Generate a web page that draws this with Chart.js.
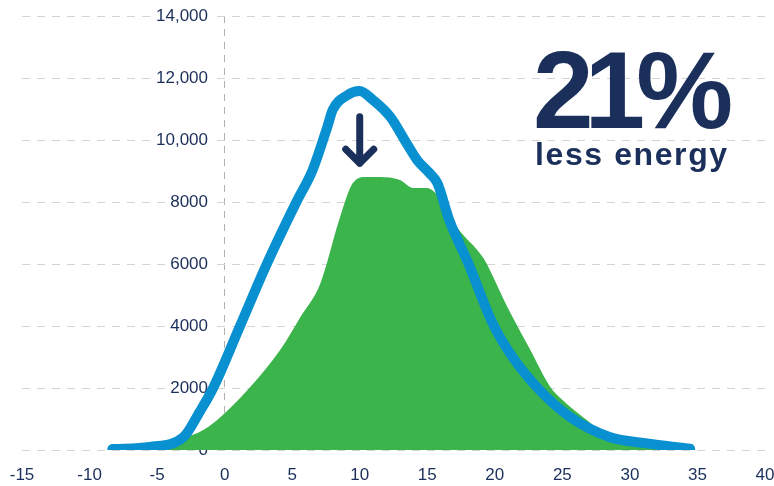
<!DOCTYPE html>
<html>
<head>
<meta charset="utf-8">
<script src="https://cdn.jsdelivr.net/npm/chart.js@4"></script>
<style>
  body { margin: 0; background: #fff; }
  #wrap { position: relative; width: 774px; height: 486px; }
  .big {
    position: absolute; left: 533px; top: 36px;
    font: bold 109px "Liberation Sans", Arial, sans-serif;
    line-height: 1; letter-spacing: -9px; color: #1b2f5b;
  }
  .small {
    position: absolute; left: 535px; top: 138px;
    font: bold 32px "Liberation Sans", Arial, sans-serif;
    line-height: 1; letter-spacing: 1.6px; color: #1b2f5b;
  }
</style>
</head>
<body>
<div id="wrap">
  <canvas id="chart" width="774" height="486"></canvas>
  <div class="big">21%</div>
  <div class="small">less energy</div>
</div>
<script>
// x axis: -15 .. 40, y axis: 0 .. 14000
const xTickLabels = ['-15', '-10', '-5', '0', '5', '10', '15', '20', '25', '30', '35', '40'];
const yTickLabels = ['0', '2000', '4000', '6000', '8000', '10,000', '12,000', '14,000'];

// green area (after)
const greenX = [-4.83, -2.84, -1.85, -0.55, 1.83, 4.12, 5.61, 7.1, 8.5, 9.49, 10.48, 11.48, 12.97, 13.97, 14.96, 16.15, 17.2, 19.14, 19.64, 20.93, 22.62, 24.11, 25.01, 26.8, 28.49, 30.78, 32.27];
const greenY = [0, 420, 580, 970, 2000, 3230, 4290, 5390, 7450, 8610, 8810, 8810, 8710, 8450, 8450, 8000, 7190, 6200, 5800, 4610, 3230, 2030, 1610, 970, 420, 130, 0];

// blue line (before)
const blueX = [-8.31, -5.53, -3.04, -1.85, -0.85, 1.14, 3.12, 5.31, 6.51, 7.6, 8.0, 9.09, 9.99, 10.98, 12.27, 13.46, 14.26, 15.15, 15.75, 16.64, 18.03, 19.82, 21.31, 23.3, 25.59, 28.48, 30.97, 34.46];
const blueY = [30, 100, 420, 1230, 2000, 4000, 6000, 8000, 9030, 10420, 10970, 11450, 11580, 11290, 10740, 9900, 9350, 8940, 8610, 7400, 6030, 4100, 3000, 1940, 1060, 420, 230, 40];

// down arrow under the peak
const arrowX = 10.0;
const arrowFrom = 10750;
const arrowTo = 9250;

// where the y tick labels sit (right edge), in x units
const yLabelAt = -1.23;

const navy = '#1b2f5b';
const tickFont = { family: '"Liberation Sans", Arial, sans-serif', size: 17 };

const toPoints = (xs, ys) => xs.map((x, i) => ({ x: x, y: ys[i] }));

const arrowPlugin = {
    id: 'arrow',
    afterDatasetsDraw(chart) {
        const { ctx, scales: { x, y } } = chart;
        const px = x.getPixelForValue(arrowX);
        const top = y.getPixelForValue(arrowFrom);
        const tip = y.getPixelForValue(arrowTo);
        ctx.save();
        ctx.strokeStyle = navy;
        ctx.lineWidth = 7;
        ctx.lineCap = 'round';
        ctx.lineJoin = 'round';
        ctx.beginPath();
        ctx.moveTo(px, top);
        ctx.lineTo(px, tip);
        ctx.moveTo(px - 14, tip - 14);
        ctx.lineTo(px, tip);
        ctx.lineTo(px + 14, tip - 14);
        ctx.stroke();
        ctx.restore();
    }
};

new Chart(document.getElementById('chart'), {
    type: 'line',
    data: {
        datasets: [
            {
                data: toPoints(blueX, blueY),
                borderColor: '#0890d0',
                borderWidth: 10,
                borderCapStyle: 'round',
                borderJoinStyle: 'round',
                pointRadius: 0,
                fill: false,
                tension: 0.4,
                cubicInterpolationMode: 'monotone',
                order: 1
            },
            {
                data: toPoints(greenX, greenY),
                backgroundColor: '#3bb44b',
                borderWidth: 0,
                pointRadius: 0,
                fill: 'origin',
                tension: 0.4,
                cubicInterpolationMode: 'monotone',
                order: 2
            }
        ]
    },
    options: {
        responsive: false,
        animation: false,
        layout: { padding: { top: 16, left: 22, right: 9, bottom: 0 } },
        plugins: { legend: { display: false }, tooltip: { enabled: false } },
        scales: {
            x: {
                type: 'linear',
                min: -15,
                max: 40,
                grid: {
                    drawTicks: false,
                    color: (c) => (c.tick && c.tick.value === 0 ? '#b0b0b0' : 'rgba(0,0,0,0)')
                },
                border: { display: false, dash: [7, 6] },
                ticks: {
                    stepSize: 5,
                    padding: 15,
                    color: navy,
                    font: tickFont,
                    callback: (v) => xTickLabels[Math.round((v + 15) / 5)]
                },
                afterFit(scale) {
                    scale.paddingLeft = 0;
                    scale.paddingRight = 0;
                    scale.height = 36;
                }
            },
            y: {
                position: { x: yLabelAt },
                min: 0,
                max: 14000,
                grid: { color: '#d4d4d4', lineWidth: 1, drawTicks: false },
                border: { display: false, dash: [8, 7] },
                ticks: {
                    stepSize: 2000,
                    padding: 0,
                    color: navy,
                    font: tickFont,
                    showLabelBackdrop: true,
                    backdropColor: '#ffffff',
                    backdropPadding: { left: 4, right: 4, top: 0, bottom: 0 },
                    callback: (v) => yTickLabels[Math.round(v / 2000)]
                },
                afterFit(scale) {
                    scale.paddingTop = 0;
                    scale.paddingBottom = 0;
                }
            }
        }
    },
    plugins: [arrowPlugin]
});
</script>
</body>
</html>
